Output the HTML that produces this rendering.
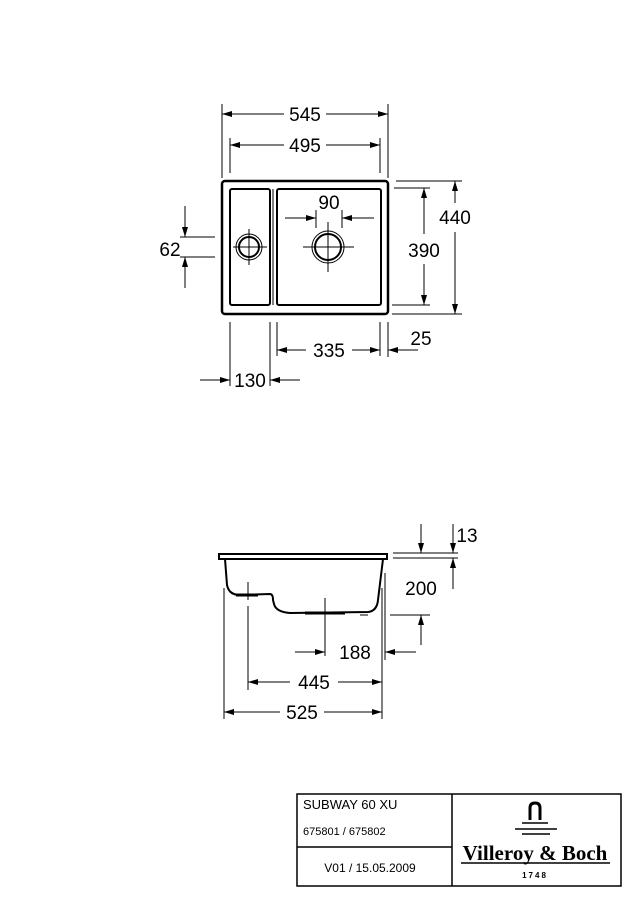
<!DOCTYPE html>
<html><head><meta charset="utf-8"><style>
html,body{margin:0;padding:0;background:#fff;}
svg{display:block;}
text{font-family:"Liberation Sans",sans-serif;fill:#000;}
</style></head><body>
<svg width="636" height="900" viewBox="0 0 636 900" xmlns="http://www.w3.org/2000/svg">
<defs>
<marker id="a" viewBox="0 0 10 6" refX="10" refY="3" markerWidth="11" markerHeight="6" orient="auto" markerUnits="userSpaceOnUse">
<path d="M0,0 L10,3 L0,6 z" fill="#000"/></marker>
</defs>
<g stroke="#000" fill="none" stroke-width="1">
<rect x="222" y="181" width="166" height="133" rx="3" stroke-width="2.5"/>
<rect x="230" y="189" width="40" height="116" rx="2" stroke-width="2"/>
<rect x="277" y="189" width="104" height="116" rx="2" stroke-width="2"/>
<line x1="273" y1="189" x2="273" y2="305" stroke-width="1"/>
<circle cx="249" cy="247" r="13" stroke-width="1"/>
<circle cx="249" cy="247" r="10" stroke-width="2"/>
<line x1="233" y1="247" x2="267" y2="247"/><line x1="249" y1="229" x2="249" y2="265"/>
<circle cx="328" cy="247" r="16" stroke-width="1"/>
<circle cx="328" cy="247" r="13" stroke-width="2"/>
<line x1="303" y1="247" x2="354" y2="247"/><line x1="328" y1="222" x2="328" y2="272"/>

<line x1="222" y1="104" x2="222" y2="178"/><line x1="388" y1="104" x2="388" y2="178"/>
<line x1="284" y1="114" x2="222" y2="114" marker-end="url(#a)"/>
<line x1="326" y1="114" x2="388" y2="114" marker-end="url(#a)"/>
<line x1="230" y1="138" x2="230" y2="173"/><line x1="380" y1="138" x2="380" y2="173"/>
<line x1="284" y1="145" x2="230" y2="145" marker-end="url(#a)"/>
<line x1="326" y1="145" x2="380" y2="145" marker-end="url(#a)"/>
<line x1="316" y1="210" x2="316" y2="228"/><line x1="342" y1="210" x2="342" y2="228"/>
<line x1="285" y1="218" x2="316" y2="218" marker-end="url(#a)"/>
<line x1="374" y1="218" x2="342" y2="218" marker-end="url(#a)"/>
<line x1="180" y1="237" x2="215" y2="237"/><line x1="180" y1="257" x2="215" y2="257"/>
<line x1="185" y1="206" x2="185" y2="237" marker-end="url(#a)"/>
<line x1="185" y1="288" x2="185" y2="257" marker-end="url(#a)"/>
<line x1="394" y1="188" x2="430" y2="188"/><line x1="392" y1="305" x2="430" y2="305"/>
<line x1="424" y1="234" x2="424" y2="188" marker-end="url(#a)"/>
<line x1="424" y1="264" x2="424" y2="305" marker-end="url(#a)"/>
<line x1="396" y1="181" x2="462" y2="181"/><line x1="392" y1="314" x2="462" y2="314"/>
<line x1="455" y1="203" x2="455" y2="181" marker-end="url(#a)"/>
<line x1="455" y1="232" x2="455" y2="314" marker-end="url(#a)"/>
<line x1="277" y1="322" x2="277" y2="356"/><line x1="380" y1="322" x2="380" y2="356"/>
<line x1="388" y1="322" x2="388" y2="357"/>
<line x1="306" y1="350" x2="277" y2="350" marker-end="url(#a)"/>
<line x1="352" y1="350" x2="380" y2="350" marker-end="url(#a)"/>
<line x1="418" y1="350" x2="388" y2="350" marker-end="url(#a)"/>
<line x1="230" y1="322" x2="230" y2="386"/><line x1="270" y1="322" x2="270" y2="386"/>
<line x1="200" y1="380" x2="230" y2="380" marker-end="url(#a)"/>
<line x1="300" y1="380" x2="270" y2="380" marker-end="url(#a)"/>

<rect x="219" y="554" width="168" height="5" stroke-width="2"/>
<path d="M225,559 L227,585 Q229,595 240,595 L270,594 Q273,594 273,600 L274,604 Q276,612 290,613 L368,612 Q377,611 378,600 L383,559" stroke-width="2"/>
<line x1="236" y1="595" x2="258" y2="595" stroke-width="3"/>
<line x1="305" y1="613" x2="345" y2="613" stroke-width="3"/>
<line x1="248" y1="582" x2="248" y2="600"/>
<line x1="248" y1="606" x2="248" y2="690"/>
<line x1="325" y1="598" x2="325" y2="656"/>
<line x1="224" y1="588" x2="224" y2="719"/>
<line x1="382" y1="588" x2="382" y2="719"/>
<line x1="385" y1="573" x2="385" y2="660"/>
<line x1="360" y1="615" x2="368" y2="615"/>
<line x1="390" y1="615" x2="430" y2="615"/>
<line x1="290" y1="682" x2="248" y2="682" marker-end="url(#a)"/>
<line x1="338" y1="682" x2="382" y2="682" marker-end="url(#a)"/>
<line x1="280" y1="712" x2="224" y2="712" marker-end="url(#a)"/>
<line x1="324" y1="712" x2="382" y2="712" marker-end="url(#a)"/>
<line x1="295" y1="652" x2="325" y2="652" marker-end="url(#a)"/>
<line x1="416" y1="652" x2="385" y2="652" marker-end="url(#a)"/>
<line x1="421" y1="645" x2="421" y2="615" marker-end="url(#a)"/>
<line x1="393" y1="553" x2="458" y2="553"/><line x1="393" y1="558" x2="458" y2="558"/>
<line x1="421" y1="524" x2="421" y2="553" marker-end="url(#a)"/>
<line x1="453" y1="524" x2="453" y2="553" marker-end="url(#a)"/>
<line x1="453" y1="589" x2="453" y2="558" marker-end="url(#a)"/>

<rect x="297" y="794" width="324" height="92" stroke-width="1.5"/>
<line x1="452" y1="794" x2="452" y2="886" stroke-width="1.5"/>
<line x1="297" y1="847" x2="452" y2="847" stroke-width="1.5"/>
<path d="M530,820 L530,808 Q530,803 535,803 Q540,803 540,808 L540,820" stroke-width="3"/>
<line x1="522" y1="823" x2="548" y2="823" stroke-width="1.5"/>
<line x1="515" y1="829" x2="557" y2="829" stroke-width="1.5"/>
<line x1="522" y1="834" x2="550" y2="834" stroke-width="1.5"/>
<line x1="461" y1="863" x2="610" y2="863" stroke-width="1.5"/>
</g>
<g font-size="19" text-anchor="middle">
<text x="305" y="121">545</text>
<text x="305" y="152">495</text>
<text x="329" y="209">90</text>
<text x="170" y="256">62</text>
<text x="424" y="257">390</text>
<text x="455" y="224">440</text>
<text x="329" y="357">335</text>
<text x="421" y="345">25</text>
<text x="250" y="387">130</text>
<text x="467" y="542">13</text>
<text x="421" y="595">200</text>
<text x="355" y="659">188</text>
<text x="314" y="689">445</text>
<text x="302" y="719">525</text>
</g>
<text x="303" y="809" font-size="13">SUBWAY 60 XU</text>
<text x="303" y="835" font-size="11">675801 / 675802</text>
<text x="370" y="872" font-size="12" text-anchor="middle">V01 / 15.05.2009</text>
<text x="535" y="860" font-size="21" font-weight="bold" text-anchor="middle" style="font-family:'Liberation Serif',serif">Villeroy &amp; Boch</text>
<text x="535" y="878" font-size="8" font-weight="bold" text-anchor="middle" letter-spacing="2">1748</text>
</svg>
</body></html>
